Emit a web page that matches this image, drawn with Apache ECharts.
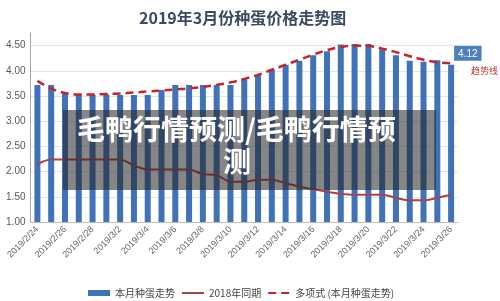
<!DOCTYPE html>
<html>
<head>
<meta charset="utf-8">
<script src="https://cdn.jsdelivr.net/npm/echarts@6/dist/echarts.min.js"></script>
<style>
html,body{margin:0;padding:0;background:#fff;}
#c{width:500px;height:301px;}
</style>
</head>
<body>
<div id="c"></div>
<script>
const categories = ['2019/2/24','2019/2/25','2019/2/26','2019/2/27','2019/2/28','2019/3/1','2019/3/2','2019/3/3','2019/3/4','2019/3/5','2019/3/6','2019/3/7','2019/3/8','2019/3/9','2019/3/10','2019/3/11','2019/3/12','2019/3/13','2019/3/14','2019/3/15','2019/3/16','2019/3/17','2019/3/18','2019/3/19','2019/3/20','2019/3/21','2019/3/22','2019/3/23','2019/3/24','2019/3/25','2019/3/26'];
const thisMonth = [3.72,3.72,3.55,3.52,3.52,3.53,3.52,3.52,3.52,3.62,3.72,3.72,3.72,3.72,3.72,3.83,3.92,4.02,4.12,4.20,4.31,4.39,4.52,4.53,4.53,4.43,4.31,4.20,4.18,4.21,4.12];
const lastYear = [2.15,2.24,2.24,2.24,2.24,2.24,2.24,2.12,2.04,2.04,2.04,2.04,1.95,1.93,1.80,1.80,1.84,1.84,1.77,1.70,1.65,1.60,1.56,1.54,1.54,1.54,1.48,1.43,1.43,1.48,1.54];
const trend = [3.80,3.65,3.56,3.53,3.53,3.54,3.55,3.57,3.59,3.61,3.63,3.65,3.68,3.72,3.77,3.84,3.92,4.02,4.12,4.22,4.32,4.41,4.47,4.50,4.49,4.44,4.37,4.29,4.22,4.17,4.15];
const seriesNames = ['本月种蛋走势','2018年同期','多项式 (本月种蛋走势)'];
const titleText = '2019年3月份种蛋价格走势图';
const overlayLine1 = '毛鸭行情预测/毛鸭行情预';
const overlayLine2 = '测';
const trendNote = '趋势线';

const chart = echarts.init(document.getElementById('c'), null, {renderer:'canvas'});
const barData = thisMonth.map((v,i)=> i === thisMonth.length-1 ? {
  value: v,
  label: {show:true, position:[6,-19], formatter:'{c}', color:'#fff', fontSize:10,
          backgroundColor:'#4f7fbf', padding:[3,4,2,4], fontFamily:'Liberation Sans'}
} : v);

chart.setOption({
  animation:false,
  title:{text:titleText, left:134, top:5,
    textStyle:{fontSize:16, fontWeight:'bold', color:'#3a4a62', fontFamily:'Noto Sans CJK SC'}},
  grid:{left:30.5, right:42, top:33, bottom:79},
  legend:{
    left:83, top:283, itemGap:6, itemWidth:22, itemHeight:6,
    textStyle:{fontSize:10, color:'#444', fontFamily:'Noto Sans CJK SC'},
    data:[
      {name:seriesNames[0], icon:'rect'},
      {name:seriesNames[1], itemStyle:{opacity:0}},
      {name:seriesNames[2], itemStyle:{opacity:0}}
    ]
  },
  xAxis:{
    type:'category', data:categories, boundaryGap:true,
    axisLine:{show:true, lineStyle:{color:'#bfbfbf'}},
    axisTick:{show:false},
    axisLabel:{interval:1, rotate:45, fontSize:9, color:'#666', margin:6, fontFamily:'Liberation Sans'}
  },
  yAxis:{
    type:'value', min:1, max:4.75, interval:0.5,
    axisLine:{show:true, lineStyle:{color:'#a6a6a6'}},
    axisTick:{show:false},
    axisLabel:{fontSize:10, color:'#595959', margin:5, showMaxLabel:false,
      formatter:v=>v.toFixed(2), fontFamily:'Liberation Sans'},
    splitLine:{show:true, showMaxLine:false, lineStyle:{color:'#e4e4e4'}}
  },
  series:[
    {name:seriesNames[0], type:'bar', data:barData, barWidth:6,
      itemStyle:{color:'#3f72b9'}},
    {name:seriesNames[1], type:'line', data:lastYear, smooth:0.3, symbol:'none',
      itemStyle:{color:'#a84444'}, lineStyle:{color:'#a84444', width:2}},
    {name:seriesNames[2], type:'line', data:trend, smooth:true, symbol:'none',
      itemStyle:{color:'#c4252d'}, lineStyle:{color:'#c4252d', width:2.5, type:[8,5]}}
  ],
  graphic:[
    {type:'rect', left:63, top:110, shape:{width:373, height:80},
      style:{fill:'rgba(35,35,35,0.55)'}, z:100},
    {type:'text', left:77, top:115, z:101,
      style:{text:overlayLine1, fill:'#fff', fontSize:28, fontWeight:'bold',
        fontFamily:'Noto Sans CJK SC'}},
    {type:'text', left:223, top:147, z:101,
      style:{text:overlayLine2, fill:'#fff', fontSize:28, fontWeight:'bold',
        fontFamily:'Noto Sans CJK SC'}},
    {type:'text', left:471, top:66, z:101,
      style:{text:trendNote, fill:'#c0392b', fontSize:9, fontFamily:'Noto Sans CJK SC'}}
  ]
});
</script>
</body>
</html>
